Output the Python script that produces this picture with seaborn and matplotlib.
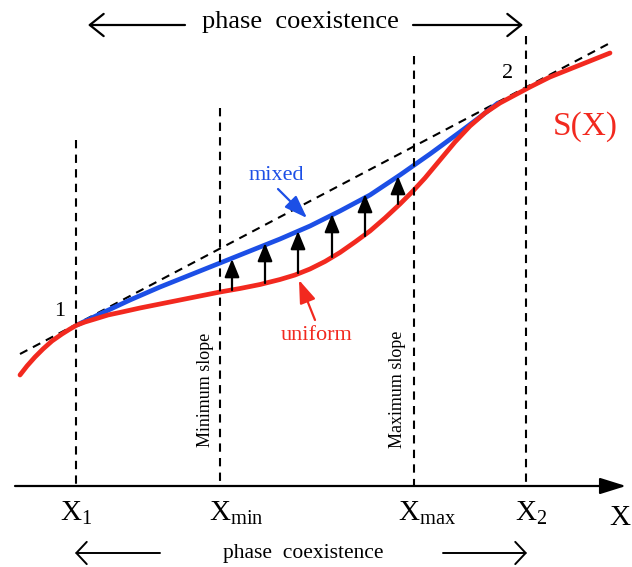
import numpy as np
import pandas as pd
import seaborn as sns
import matplotlib.pyplot as plt

sns.set_style('white')
plt.rcParams['font.family'] = ['Liberation Serif', 'DejaVu Serif']
plt.rcParams['mathtext.fontset'] = 'custom'
plt.rcParams['mathtext.rm'] = 'Liberation Serif'
plt.rcParams['text.color'] = 'black'

# drawing coordinates (x to the right, y downwards like the sketch)
uniform_x = [20, 27, 35, 43, 52, 62, 70, 77, 85, 95, 108, 122, 140, 160, 180, 200, 220, 240, 260, 280, 295,
             310, 325, 340, 355, 370, 385, 400, 413, 425, 440, 455, 470, 485, 500, 515, 530, 550, 570, 590, 610]
uniform_y = [375, 366, 357, 349, 341, 334, 329, 325, 322, 319, 315, 312, 308, 304, 300, 296, 292, 288.5, 284.5, 279.5, 275,
             269, 261.5, 252.5, 242, 231, 218, 204, 191, 178, 160, 142, 126, 113, 103, 95, 87, 77, 69, 61, 53]

mixed_x = [77, 100, 130, 160, 190, 220, 250, 280, 310, 340, 370, 400, 430, 460, 480, 498]
mixed_y = [325, 314, 300, 287, 275, 263, 251, 239, 226, 211, 195, 175, 154, 132, 117, 103]

tangent_x = [20, 610]
tangent_y = [354, 43]

vline_x = [76, 220, 414, 526]
vline_top = [140, 108, 56, 36]
axis_y = 486

tick_labels = [r'$\mathrm{X}_1$', r'$\mathrm{X}_{\mathrm{min}}$', r'$\mathrm{X}_{\mathrm{max}}$', r'$\mathrm{X}_2$']
tick_left = [60, 209, 398, 515]

# little arrows: uniform -> mixed
lift_x = [232, 265, 298, 332, 365, 398]
lift_from = [290, 283, 273, 257, 236, 204]
lift_to = [259, 243, 231, 214, 194, 176]

red = '#f2291f'
blue = '#1c4fe6'

fig = plt.figure(figsize=(6.32, 5.67), dpi=100)
ax = fig.add_axes([0, 0, 1, 1])

df_u = pd.DataFrame({'x': uniform_x, 'y': uniform_y})
df_m = pd.DataFrame({'x': mixed_x, 'y': mixed_y})
df_t = pd.DataFrame({'x': tangent_x, 'y': tangent_y})

sns.lineplot(data=df_t, x='x', y='y', ax=ax, color='black', lw=1.5, linestyle=(0, (4, 3)), sort=False)
sns.lineplot(data=df_m, x='x', y='y', ax=ax, color=blue, lw=3.4, sort=False)
sns.lineplot(data=df_u, x='x', y='y', ax=ax, color=red, lw=3.4, sort=False)

for xv, top in zip(vline_x, vline_top):
    ax.plot([xv, xv], [top, axis_y], color='black', lw=1.5, linestyle=(0, (4, 3)))

for xv, y0, y1 in zip(lift_x, lift_from, lift_to):
    ax.annotate('', xy=(xv, y1), xytext=(xv, y0),
                arrowprops=dict(arrowstyle='-|>,head_length=1.1,head_width=0.45', color='black', lw=1.6,
                                shrinkA=0, shrinkB=0))

# x axis with arrow
ax.annotate('', xy=(626, axis_y), xytext=(15, axis_y),
            arrowprops=dict(arrowstyle='-|>,head_length=1.6,head_width=0.5', color='black', lw=1.6,
                            shrinkA=0, shrinkB=0))

for xl, lab in zip(tick_left, tick_labels):
    ax.text(xl, 520, lab, ha='left', va='baseline', fontsize=21)
ax.text(609, 525, 'X', ha='left', va='baseline', fontsize=21)

# phase coexistence arrows
ax.text(300, 22, 'phase  coexistence', ha='center', va='center', fontsize=19)
ax.annotate('', xy=(88, 25), xytext=(185, 25),
            arrowprops=dict(arrowstyle='->,head_length=1.0,head_width=0.8', color='black', lw=1.6,
                            shrinkA=0, shrinkB=0))
ax.annotate('', xy=(523, 25), xytext=(413, 25),
            arrowprops=dict(arrowstyle='->,head_length=1.0,head_width=0.8', color='black', lw=1.6,
                            shrinkA=0, shrinkB=0))

ax.text(303, 558, 'phase  coexistence', ha='center', va='baseline', fontsize=15.5)
ax.annotate('', xy=(75, 553), xytext=(160, 553),
            arrowprops=dict(arrowstyle='->,head_length=0.75,head_width=0.8', color='black', lw=1.4,
                            shrinkA=0, shrinkB=0))
ax.annotate('', xy=(527, 553), xytext=(443, 553),
            arrowprops=dict(arrowstyle='->,head_length=0.75,head_width=0.8', color='black', lw=1.4,
                            shrinkA=0, shrinkB=0))

ax.text(205, 390, 'Minimum slope', rotation=90, ha='center', va='center', fontsize=13)
ax.text(398, 389, 'Maximum slope', rotation=90, ha='center', va='center', fontsize=13)

ax.text(276, 175, 'mixed', color=blue, ha='center', va='center', fontsize=16)
ax.annotate('', xy=(307, 218), xytext=(278, 189),
            arrowprops=dict(arrowstyle='-|>,head_length=1.4,head_width=0.5', color=blue, lw=1.6,
                            shrinkA=0, shrinkB=0))

ax.text(317, 335, 'uniform', color=red, ha='center', va='center', fontsize=16)
ax.annotate('', xy=(299, 280), xytext=(315, 320),
            arrowprops=dict(arrowstyle='-|>,head_length=1.4,head_width=0.5', color=red, lw=1.6,
                            shrinkA=0, shrinkB=0))

ax.text(585, 127, 'S(X)', color=red, ha='center', va='center', fontsize=24)
ax.text(60, 312, '1', ha='center', va='center', fontsize=16)
ax.text(508, 74, '2', ha='center', va='center', fontsize=16)

ax.set_xlim(0, 632)
ax.set_ylim(567, 0)
ax.axis('off')

fig.savefig('out.png', dpi=100)
